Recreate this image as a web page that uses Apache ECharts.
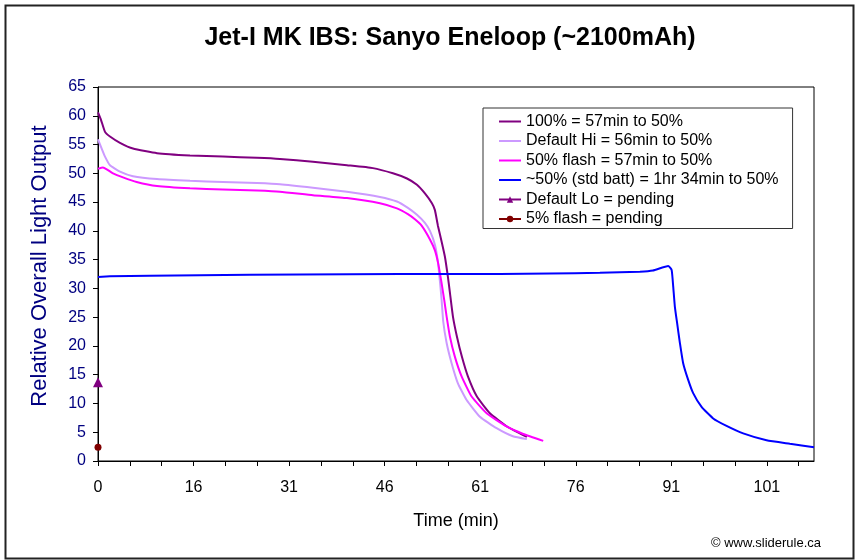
<!DOCTYPE html>
<html>
<head>
<meta charset="utf-8">
<script src="https://cdn.jsdelivr.net/npm/echarts@6/dist/echarts.min.js"></script>
<style>html,body{margin:0;padding:0;background:#fff}#c{width:855px;height:560px}</style>
</head>
<body>
<div id="c"></div>
<script>
// X positions are in axis-slot units: each labelled slot (0,16,31,...) is 15 units apart.
var xTickLabels = ['0','16','31','46','61','76','91','101'];
var xLabelPos = [0,15,30,45,60,75,90,105];
var xTickPos = [0,5,10,15,20,25,30,35,40,45,50,55,60,65,70,75,80,85,90,95,100,105,110];
var yTicks = [0,5,10,15,20,25,30,35,40,45,50,55,60,65];

var seriesNames = [
  '100% = 57min to 50%',
  'Default Hi = 56min to 50%',
  '50% flash = 57min to 50%',
  '~50% (std batt) = 1hr 34min to 50%',
  'Default Lo = pending',
  '5% flash = pending'
];

var s100 = [[0,60.6],[0.47,59.3],[1.10,57.2],[1.88,56.4],[3.45,55.3],[5.49,54.3],[9.26,53.5],[14.44,53.1],[19.62,52.9],[24.96,52.7],[28.56,52.5],[33.74,52.0],[39.08,51.4],[43.16,50.9],[46.30,50.0],[48.50,49.1],[50.07,48.0],[51.32,46.5],[52.42,44.8],[52.89,43.6],[53.36,40.9],[53.99,37.9],[54.46,35.5],[54.93,32.0],[55.25,29.2],[55.72,25.1],[56.35,21.6],[57.13,18.1],[58.07,14.7],[59.48,11.2],[61.52,8.3],[64.19,6.0],[66.23,4.8],[67.33,4.2]];

var sHi = [[0,55.9],[0.58,54.3],[1.10,52.9],[1.88,51.4],[3.45,50.3],[5.49,49.5],[9.26,49.0],[14.44,48.7],[19.62,48.5],[24.96,48.3],[28.56,48.1],[33.74,47.5],[39.08,46.8],[44.26,45.9],[46.93,45.1],[48.65,44.0],[50.07,42.8],[51.32,41.4],[52.11,40.0],[52.89,37.6],[53.36,34.6],[53.68,31.2],[53.94,28.0],[54.20,24.2],[54.73,20.5],[55.51,17.0],[56.50,13.5],[57.87,10.6],[59.95,7.7],[62.57,5.7],[65.13,4.3],[67.33,3.8]];

var sFlash50 = [[0,50.8],[0.78,51.0],[1.37,50.7],[2.35,50.0],[3.92,49.3],[6.07,48.5],[9.26,47.8],[14.44,47.4],[19.62,47.2],[24.96,47.0],[28.56,46.8],[33.74,46.2],[39.08,45.7],[44.26,44.8],[46.93,43.9],[48.65,42.9],[49.75,42.0],[50.80,40.9],[52.11,38.5],[52.89,36.6],[53.41,34.3],[53.94,30.9],[54.35,28.0],[54.73,25.1],[55.25,21.6],[56.03,18.1],[57.08,14.7],[58.65,11.2],[61.01,8.3],[64.15,6.0],[66.75,4.7],[69.89,3.5]];

var sStd = [[0,32.0],[1.88,32.1],[8.16,32.2],[16.01,32.3],[31.70,32.4],[47.40,32.5],[63.09,32.5],[70.94,32.6],[78.79,32.7],[85.07,32.9],[87.11,33.1],[89.51,33.9],[90.05,33.2],[90.30,30.3],[90.56,26.8],[90.92,23.9],[91.35,20.5],[91.86,17.0],[92.65,14.1],[93.43,11.8],[94.75,9.4],[96.57,7.4],[98.67,6.1],[101.28,4.8],[104.95,3.6],[108.61,3.0],[112.4,2.4]];

var sLo = [[0,13.7]];
var sFlash5 = [[0,2.4]];

var colors = ['#800080','#CC99FF','#FF00FF','#0000FF','#800080','#800000'];
var FONT = 'Arial, "Liberation Sans", sans-serif';
var LINE_ICON = 'path://M0,0 L22,0 L22,2 L0,2 Z';

var chart = echarts.init(document.getElementById('c'), null, {renderer:'canvas'});

function lineSeries(i, data) {
  return {
    name: seriesNames[i], type: 'line', data: data,
    symbol: 'none', smooth: 0.15,
    lineStyle: {color: colors[i], width: 2},
    itemStyle: {color: colors[i]},
    animation: false
  };
}

var option = {
  backgroundColor: '#fff',
  animation: false,
  grid: {left: 98, right: 41, top: 87, bottom: 99, show: true, borderColor: '#000', borderWidth: 1, backgroundColor: 'transparent'},
  legend: {
    orient: 'vertical', left: 483, top: 108,
    padding: [5, 14, 1, 15],
    itemWidth: 22, itemHeight: 8, itemGap: 2.5,
    symbolKeepAspect: true,
    backgroundColor: '#fff', borderColor: '#333', borderWidth: 1,
    textStyle: {fontFamily: FONT, fontSize: 16, color: '#000', lineHeight: 17},
    data: seriesNames.map(function(n, i){
      var d = {name: n, itemStyle: {color: colors[i]}};
      if (i < 4) d.icon = LINE_ICON;
      return d;
    })
  },
  xAxis: {
    type: 'value', min: 0, max: 112.4,
    name: 'Time (min)', nameLocation: 'middle', nameGap: 51,
    nameTextStyle: {fontFamily: FONT, fontSize: 18, color: '#000'},
    axisLine: {show: true, onZero: false, lineStyle: {color: '#000', width: 1}},
    axisTick: {show: true, inside: false, length: 5, customValues: xTickPos, lineStyle: {color: '#000'}},
    axisLabel: {customValues: xLabelPos, margin: 19, fontFamily: FONT, fontSize: 16, color: '#000',
      formatter: function(v){ var k = Math.round(v/15); return xTickLabels[k] || ''; }},
    splitLine: {show: false}
  },
  yAxis: {
    type: 'value', min: 0, max: 65, interval: 5,
    axisLine: {show: true, onZero: false, lineStyle: {color: '#000', width: 1}},
    axisTick: {show: true, inside: false, length: 5, lineStyle: {color: '#000'}},
    axisLabel: {margin: 12, fontFamily: FONT, fontSize: 16, color: '#000080',
      formatter: function(v){ return yTicks.indexOf(v) >= 0 ? String(v) : ''; }},
    splitLine: {show: false}
  },
  graphic: [
    {type: 'rect', left: 3, top: 3, z: -10, silent: true,
      shape: {width: 848, height: 553}, style: {fill: null, stroke: '#222', lineWidth: 2}},
    {type: 'text', x: 450, y: 38, z: 10,
      style: {text: 'Jet-I MK IBS: Sanyo Eneloop (~2100mAh)', font: 'bold 25px ' + FONT, fill: '#000', textAlign: 'center', textVerticalAlign: 'middle'}},
    {type: 'text', x: 40, y: 266, z: 10, rotation: Math.PI / 2,
      style: {text: 'Relative Overall Light Output', font: '22px ' + FONT, fill: '#000080', textAlign: 'center', textVerticalAlign: 'middle'}},
    {type: 'text', x: 821, y: 543, z: 10,
      style: {text: '\u00a9 www.sliderule.ca', font: '13px ' + FONT, fill: '#000', textAlign: 'right', textVerticalAlign: 'middle'}}
  ],
  series: [
    lineSeries(0, s100),
    lineSeries(1, sHi),
    lineSeries(2, sFlash50),
    lineSeries(3, sStd),
    {name: seriesNames[4], type: 'line', data: sLo, symbol: 'triangle', symbolSize: 10, clip: false,
      lineStyle: {color: colors[4], width: 2}, itemStyle: {color: colors[4]}},
    {name: seriesNames[5], type: 'line', data: sFlash5, symbol: 'circle', symbolSize: 7, clip: false,
      lineStyle: {color: colors[5], width: 2}, itemStyle: {color: colors[5]}}
  ]
};
chart.setOption(option);
</script>
</body>
</html>
